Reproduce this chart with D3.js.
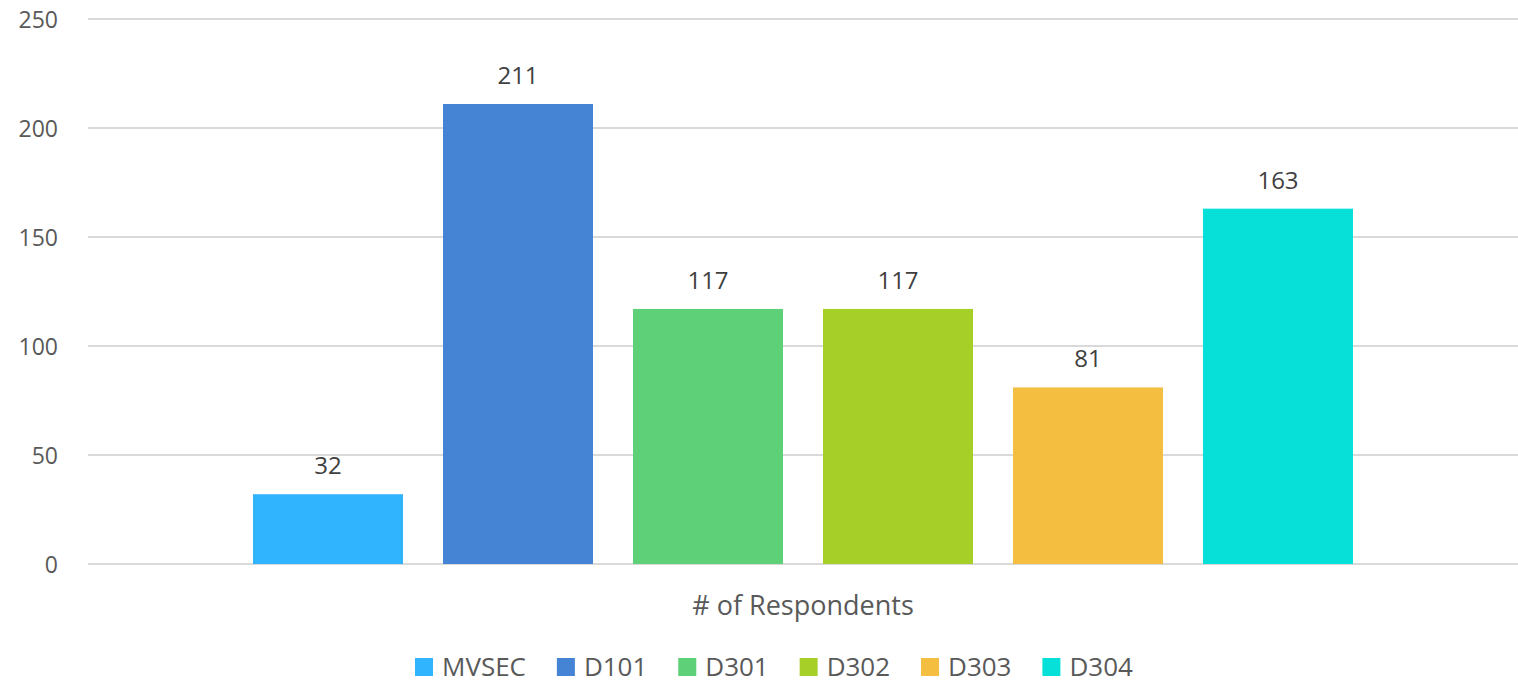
<!DOCTYPE html>
<html><head><meta charset="utf-8">
<script src="https://cdn.jsdelivr.net/npm/d3@7"></script>
<style>body{margin:0;background:#fff;}svg{display:block;font-family:"Open Sans",sans-serif;}</style>
</head><body>
<svg id="c" width="1518" height="688"></svg>
<script>
const categories = ["# of Respondents"];
const seriesNames = ["MVSEC","D101","D301","D302","D303","D304"];
const seriesValues = [32,211,117,117,81,163];
const seriesColors = ["#30b4fe","#4584d4","#5dd078","#a6cf28","#f4be40","#07e0d8"];
const yTicks = [0,50,100,150,200,250];

(function(){
const svg = d3.select("#c");
const mLeft = 88, mRight = 1518, mTop = 19, mBottom = 564;
const y = d3.scaleLinear().domain([0,250]).range([mBottom, mTop]);
const x0 = d3.scaleBand().domain(categories).range([mLeft, mRight]).paddingInner(0).paddingOuter(0.15);
const x1 = d3.scaleBand().domain(seriesNames).range([0, x0.bandwidth()]).paddingInner(40/190).paddingOuter(0);

// gridlines
svg.append("g").selectAll("line").data(yTicks).join("line")
  .attr("x1", mLeft).attr("x2", mRight)
  .attr("y1", d=>y(d)).attr("y2", d=>y(d))
  .attr("stroke", "#d9d9d9").attr("stroke-width", 2);

// y axis labels
const yAxis = d3.axisLeft(y).tickValues(yTicks).tickSize(0).tickPadding(0);
const ga = svg.append("g").attr("transform", `translate(${mLeft-30},0)`).call(yAxis);
ga.select(".domain").remove();
ga.selectAll("text").attr("font-size", 23).attr("fill", "#595959").attr("font-family", "Open Sans, sans-serif").attr("dy","0.35em");

// bars
const gb = svg.append("g").attr("transform", `translate(${x0(categories[0])},0)`);
gb.selectAll("rect").data(seriesNames).join("rect")
  .attr("x", d=>x1(d)).attr("width", x1.bandwidth())
  .attr("y", (d,i)=>y(seriesValues[i])).attr("height", (d,i)=>y(0)-y(seriesValues[i]))
  .attr("fill", (d,i)=>seriesColors[i]);
gb.selectAll("text").data(seriesNames).join("text")
  .attr("x", d=>x1(d)+x1.bandwidth()/2).attr("y", (d,i)=>y(seriesValues[i])-20)
  .attr("text-anchor","middle").attr("font-size", 24).attr("fill","#404040")
  .text((d,i)=>seriesValues[i]);

// category label
svg.append("text").attr("x", x0(categories[0])+x0.bandwidth()/2).attr("y", 615)
  .attr("text-anchor","middle").attr("font-size", 27).attr("fill","#595959").text(categories[0]);

// legend
const lg = svg.append("g");
const items = lg.selectAll("g").data(seriesNames).join("g");
items.append("rect").attr("width",18).attr("height",18).attr("y",-9).attr("fill",(d,i)=>seriesColors[i]);
items.append("text").attr("x",27).attr("dy","0.36em").attr("font-size",26).attr("fill","#595959").text(d=>d);
const widths = [];
items.each(function(){ widths.push(this.getBBox().width); });
const legLeft = 415, legRight = 1133;
const gap = (legRight - legLeft - d3.sum(widths)) / (widths.length - 1);
let xs = legLeft; const pos = [];
widths.forEach(w => { pos.push(xs); xs += w + gap; });
items.attr("transform",(d,i)=>`translate(${pos[i]},667)`);
})();
</script>
</body></html>
